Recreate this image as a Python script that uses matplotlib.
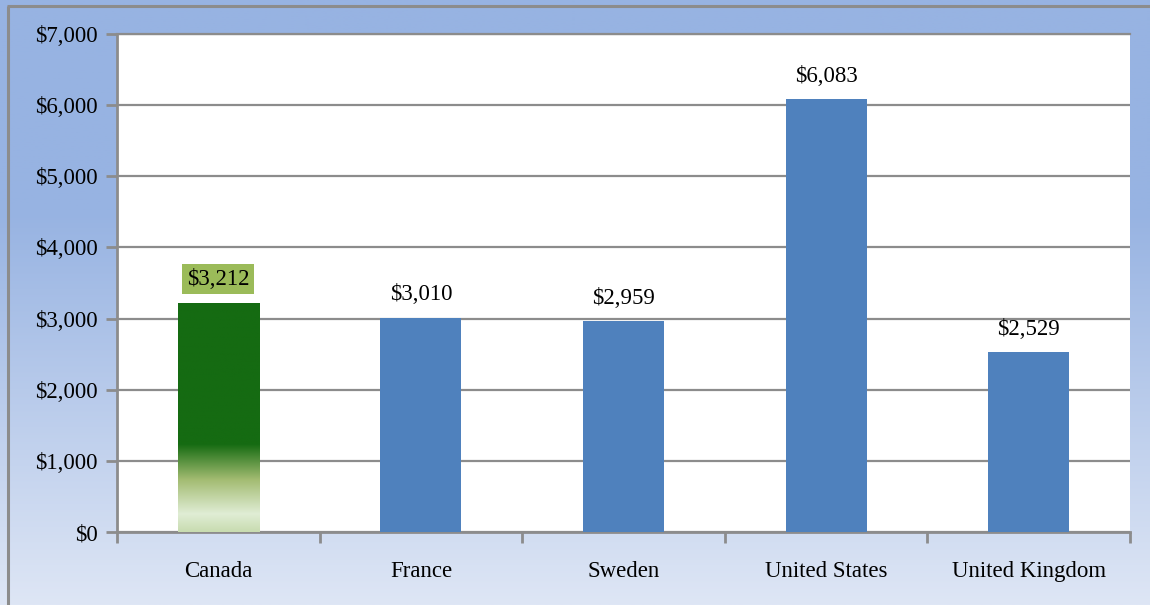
import numpy as np
import matplotlib
matplotlib.use("Agg")
import matplotlib.pyplot as plt
from matplotlib.colors import LinearSegmentedColormap, to_rgb
from matplotlib.ticker import FuncFormatter, MultipleLocator

countries = ["Canada", "France", "Sweden", "United States", "United Kingdom"]
values = [3212, 3010, 2959, 6083, 2529]
labels = ["$3,212", "$3,010", "$2,959", "$6,083", "$2,529"]

plt.rcParams['font.family'] = ['Liberation Serif', 'DejaVu Serif']
FS = 16.5

W, H = 1150, 605
fig = plt.figure(figsize=(W / 100, H / 100), dpi=100)

# background gradient
bg = fig.add_axes([0, 0, 1, 1], zorder=-10)
bg.set_axis_off()
top_c = np.array(to_rgb("#97B3E2"))
bot_c = np.array(to_rgb("#DEE6F5"))
n = 300
t = np.linspace(0, 1, n)  # 0 top, 1 bottom
f = np.clip((t - 0.35) / 0.65, 0, 1)
grad = (top_c[None, :] * (1 - f[:, None]) + bot_c[None, :] * f[:, None])
grad = np.repeat(grad[:, None, :], 2, axis=1)
bg.imshow(grad, aspect='auto', extent=[0, 1, 0, 1], transform=bg.transAxes)
bg.set_xlim(0, 1); bg.set_ylim(0, 1)
bg.plot([7 / W, 1], [1 - 6 / H, 1 - 6 / H], color="#8C8C8C", lw=2.2, transform=bg.transAxes, solid_capstyle='butt')
bg.plot([8 / W, 8 / W], [0, 1 - 6 / H], color="#8C8C8C", lw=2.2, transform=bg.transAxes, solid_capstyle='butt')

ax = fig.add_axes([117 / W, 1 - 532 / H, (1130 - 117) / W, (532 - 34) / H])
ax.set_facecolor("white")
x = np.arange(len(countries))
bars = ax.bar(x, values, width=0.40, color="#4F81BD", zorder=3)

ax.set_xlim(-0.5, len(countries) - 0.5)
ax.set_ylim(0, 7000)
ax.yaxis.set_major_locator(MultipleLocator(1000))
ax.yaxis.set_major_formatter(FuncFormatter(lambda v, p: "${:,.0f}".format(v)))
ax.grid(axis='y', color="#8C8C8C", lw=1.6, zorder=0)
ax.set_axisbelow(True)

ax.spines['right'].set_visible(False)
ax.spines['top'].set_color("#8C8C8C")
ax.spines['top'].set_linewidth(1.6)
ax.spines['left'].set_color("#8C8C8C")
ax.spines['left'].set_linewidth(2)
ax.spines['bottom'].set_color("#8C8C8C")
ax.spines['bottom'].set_linewidth(2)

ax.set_xticks(x)
ax.set_xticklabels(countries, fontsize=FS)
ax.tick_params(axis='x', length=0, pad=21)
ax.set_xticks(np.arange(-0.5, len(countries)), minor=True)
ax.tick_params(axis='x', which='minor', length=8, width=2, color="#8C8C8C", direction='out')
ax.tick_params(axis='y', length=8, width=2, color="#8C8C8C", direction='out', labelsize=FS, pad=6)

# Canada gradient bar
cb = bars[0]
cb.set_facecolor("none")
stops = [(0.0, "#C8DCB0"), (250 / 3212, "#E0EDD5"), (730 / 3212, "#A3BC72"),
         (1230 / 3212, "#156B12"), (1.0, "#156B12")]
cmap = LinearSegmentedColormap.from_list("cg", stops)
gv = np.linspace(0, 1, 256)[:, None]
bx0 = cb.get_x()
bw = cb.get_width()
im = ax.imshow(gv, cmap=cmap, aspect='auto', origin='lower',
               extent=[bx0, bx0 + bw, 0, values[0]], zorder=3)
im.set_clip_path(cb)
ax.set_xlim(-0.5, len(countries) - 0.5)
ax.set_ylim(0, 7000)

for i, (v, lab) in enumerate(zip(values, labels)):
    if i == 0:
        ax.annotate(lab, (i, v), xytext=(0, 17.5), textcoords='offset points',
                    ha='center', va='center', fontsize=FS, zorder=5,
                    bbox=dict(boxstyle='square,pad=0.2', fc="#9BBB59", ec='none'))
    else:
        ax.annotate(lab, (i, v), xytext=(0, 16.5), textcoords='offset points',
                    ha='center', va='center', fontsize=FS, zorder=5)

fig.savefig("out.png", dpi=100)
